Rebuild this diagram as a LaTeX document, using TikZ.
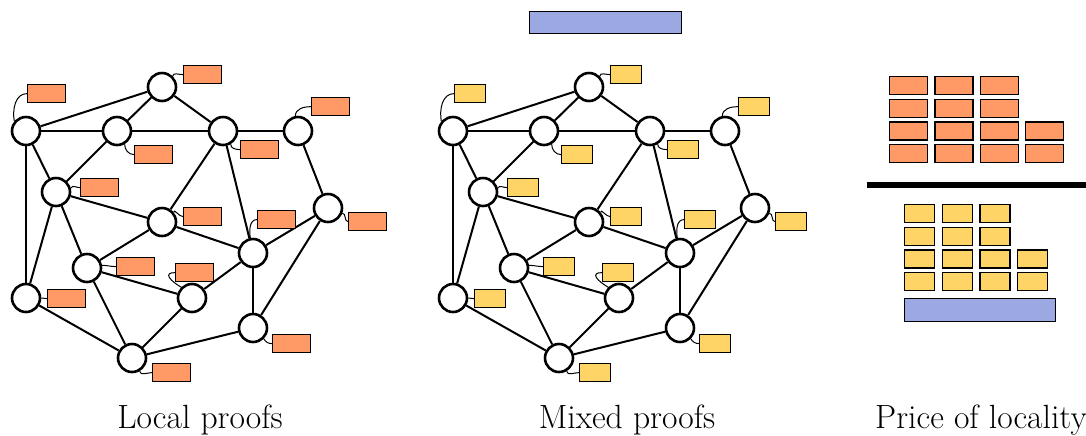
\documentclass[tikz,border=0pt]{standalone}
\usepackage{tikz}
\definecolor{certorange}{RGB}{255,153,102}
\definecolor{certyellow}{RGB}{255,212,102}
\definecolor{certblue}{RGB}{155,168,226}

\begin{document}
\begin{tikzpicture}[x=0.5pt,y=-0.5pt,
    vertex/.style={circle,draw,line width=1.3pt,minimum size=14pt,inner sep=0pt},
    link/.style={line width=1pt},
    cert/.style={draw,line width=0.6pt,anchor=north west,minimum height=9pt,inner sep=0pt},
    tie/.style={line width=0.5pt},
    caption/.style={anchor=base,font=\fontsize{16.8}{20}\selectfont}]
  \useasboundingbox (0,0) rectangle (1086,435);

  % the two networks, certificates in orange and yellow
  \foreach \g/\dx/\col/\w in {loc/0/certorange/19pt,mix/427/certyellow/15.5pt} {
    \begin{scope}[xshift=\dx*0.5pt]
      % vertices
      \foreach \v/\x/\y in {A/26/131,B/117/131,C/162/87,D/223/131,E/298/131,
                            F/56/192,G/162/222,H/328/208,I/253/253,J/87/268,
                            K/192/298,L/26/298,M/253/328,N/132/358}
        \node[vertex] (\g\v) at (\x,\y) {};

      % edges
      \foreach \a/\b in {A/C,A/B,A/F,A/L,B/C,B/D,B/F,C/D,D/E,D/G,D/I,E/H,F/G,
                         F/J,F/L,G/J,G/I,H/I,H/M,I/K,I/M,J/K,J/N,K/N,L/N,N/M}
        \draw[link] (\g\a) -- (\g\b);

      % certificates with their ties
      \foreach \v/\x/\y/\p/\o/\l in {A/27/84/140/100/1,B/134/145/-60/-90/1,
                                     C/183/65/45/90/1,D/240/140/-60/-90/1,
                                     E/311/97/100/90/1,F/80/178/15/60/1,
                                     G/183/207/40/90/1,H/348/212/-20/0/1,
                                     I/257/210/100/100/1,J/116/257/10/0/1,
                                     K/175/263/135/150/2,L/47/289/0/0/1,
                                     M/272/334/-45/-60/1,N/152/363/-60/-80/1} {
        \node[cert,fill=\col,minimum width=\w] (\g\v c) at (\x,\y) {};
        \draw[tie] (\g\v.\p) to[out=\o,in=180,looseness=\l] (\g\v c.west);
      }
    \end{scope}
  }

  % shared certificate of the mixed proof
  \node[cert,fill=certblue,minimum width=76pt,minimum height=11pt] (shared) at (529,11) {};

  % price of locality
  \foreach \r/\n in {0/3,1/3,2/4,3/4}
    \foreach \c in {1,...,\n}
      \node[cert,fill=certorange,minimum width=19pt] (loc\r\c) at ({889+45.3*(\c-1)},{76+22.7*\r}) {};
  \draw[line width=3pt] (867,185) -- (1086,185);
  \foreach \r/\n in {0/3,1/3,2/4,3/4}
    \foreach \c in {1,...,\n}
      \node[cert,fill=certyellow,minimum width=15pt] (mix\r\c) at ({904+37.7*(\c-1)},{204+22.7*\r}) {};
  \node[cert,fill=certblue,minimum width=75.5pt,minimum height=11.5pt] (base) at (904,298) {};

  % captions
  \node[caption] (locText) at (200,428) {Local proofs};
  \node[caption] (mixText) at (627,428) {Mixed proofs};
  \node[caption] (priceText) at (981,428) {Price of locality};
\end{tikzpicture}
\end{document}
